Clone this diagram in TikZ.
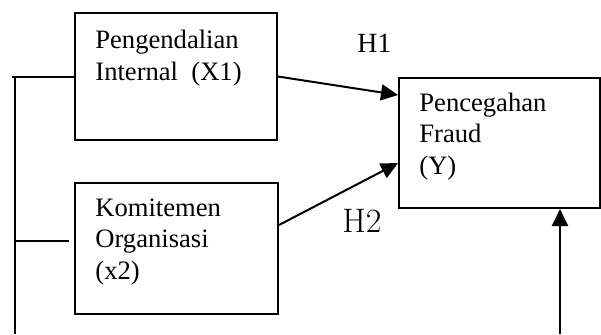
\documentclass[tikz,border=0pt]{standalone}
\usepackage{fontspec}
\setmainfont{Liberation Serif}
\newfontfamily\lmfont{Latin Modern Roman}
\usetikzlibrary{arrows.meta,calc}
\begin{document}
\begin{tikzpicture}[x=0.5pt,y=-0.5pt,
  box/.style={draw,line width=1pt,inner sep=0pt,anchor=north west},
  txt/.style={anchor=base west,align=left,inner sep=0pt,font=\fontsize{13.3}{15.6}\selectfont},
  conn/.style={line width=1pt},
  arr/.style={line width=1pt,-{Triangle[length=8.5pt,width=8pt]}}]
\useasboundingbox (0,0) rectangle (601,334);
% boxes
\node[box,minimum width=101pt,minimum height=63.5pt] (x1) at (74,12) {};
\node[box,minimum width=100.5pt,minimum height=65pt] (y) at (398,77) {};
\node[box,minimum width=101.5pt,minimum height=65.5pt] (x2) at (74,182) {};
% texts (base anchor = last line)
\node[txt] (tx1) at (95,80) {Pengendalian\\Internal\ \ (X1)};
\node[txt] (ty) at (419,174) {Pencegahan\\Fraud\\(Y)};
\node[txt] (tx2) at (95,279) {Komitemen\\Organisasi\\(x2)};
\node[anchor=base west,inner sep=0pt,font=\fontsize{13.9}{16}\selectfont] (h1) at (357,52) {H1};
\node[anchor=base west,inner sep=0pt,font=\lmfont\fontsize{17}{19}\selectfont] (h2) at (342,232) {H2};
% connectors
\coordinate (h1end) at ($(y.north west)+(0,18)$);
\coordinate (h2start) at ($(x2.north east)+(0,43)$);
\coordinate (h2end) at ($(y.north west)+(0,86)$);
\draw[arr] (x1.east) -- (h1end);
\draw[arr] (h2start) -- (h2end);
\coordinate (bot) at (560,334);
\draw[arr] (bot) -- (bot |- y.south);
\coordinate (tl) at (12,77);
\coordinate (vt) at (15,77);
\coordinate (vb) at (15,334);
\coordinate (m2) at (15,241);
\coordinate (m2e) at (69,241);
\draw[conn] (tl) -- (tl -| x1.west);
\draw[conn] (vt) -- (vb);
\draw[conn] (m2) -- (m2e);
\end{tikzpicture}
\end{document}
